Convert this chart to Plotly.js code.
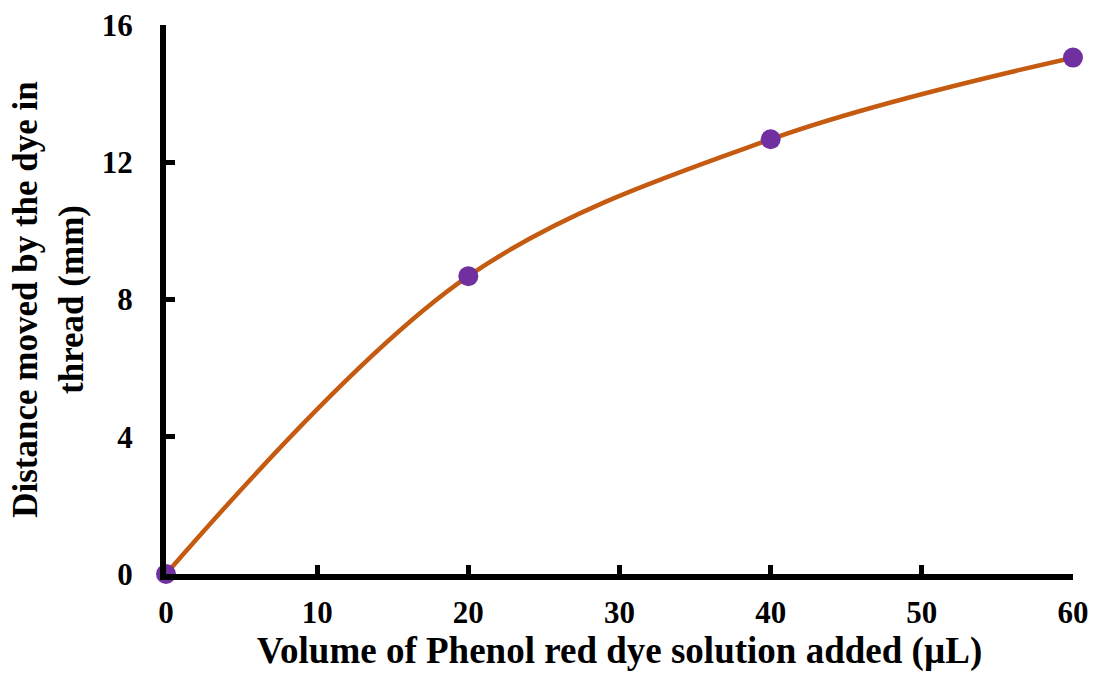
<!DOCTYPE html>
<html><head><meta charset="utf-8">
<script src="https://cdn.plot.ly/plotly-3.0.1.min.js"></script>
<style>html,body{margin:0;padding:0;background:#fff;}#chart{width:1099px;height:677px;}</style>
</head><body><div id="chart"></div>
<script>
const volume = [0, 20, 40, 60];
const distance = [0, 8.68, 12.67, 15.05];
const xTicks = [0, 10, 20, 30, 40, 50, 60];
const yTicks = [0, 4, 8, 12, 16];

const fam = '"Liberation Serif", "Times New Roman", serif';

Plotly.newPlot('chart', [{
  x: volume, y: distance, type: 'scatter', mode: 'lines+markers',
  line: {shape: 'spline', smoothing: 1, color: '#C55A11', width: 4.5},
  marker: {color: '#7030A0', size: 20},
  cliponaxis: false, showlegend: false
}], {
  width: 1099, height: 677,
  margin: {l: 166, r: 26, t: 25, b: 103},
  paper_bgcolor: '#fff', plot_bgcolor: '#fff',
  font: {family: fam, size: 32, color: '#000'},
  xaxis: {
    range: [0, 60], tickvals: xTicks, ticktext: xTicks.map(String),
    showgrid: false, zeroline: false, showline: true, linecolor: '#000', linewidth: 6,
    ticks: 'inside', ticklen: 9, tickwidth: 5, tickcolor: '#000', ticklabelstandoff: 6,
    tickfont: {family: fam, size: 31, color: '#000', weight: 'bold'},
    title: {text: '<b>Volume of Phenol red dye solution added (µL)</b>', font: {family: fam, size: 37, color: '#000'}, standoff: 8}
  },
  yaxis: {
    range: [0, 16], tickvals: yTicks, ticktext: yTicks.map(String),
    showgrid: false, zeroline: false, showline: true, linecolor: '#000', linewidth: 6,
    ticks: 'inside', ticklen: 9, tickwidth: 5, tickcolor: '#000', ticklabelstandoff: 21,
    tickfont: {family: fam, size: 31, color: '#000', weight: 'bold'},
    title: {text: '<b>Distance moved by the dye in<br>thread (mm)</b>', font: {family: fam, size: 35, color: '#000'}, standoff: 10}
  }
}, {displayModeBar: false});
</script></body></html>
